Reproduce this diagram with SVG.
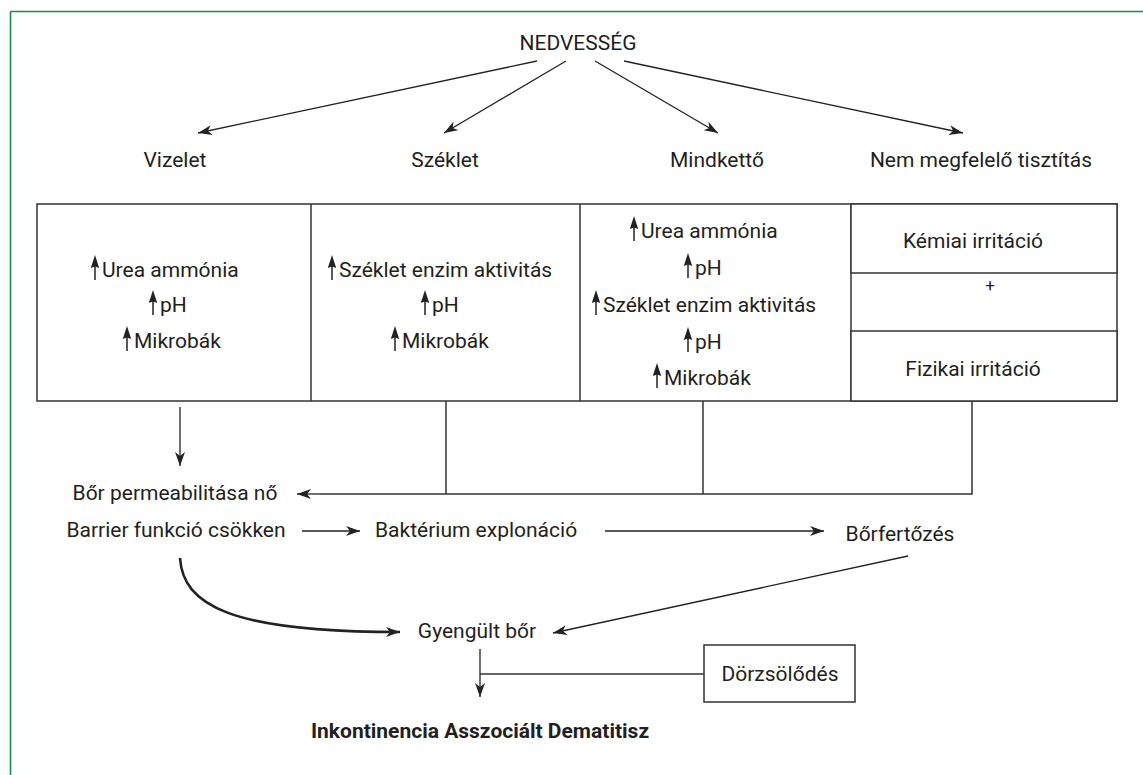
<svg xmlns="http://www.w3.org/2000/svg" xmlns:xlink="http://www.w3.org/1999/xlink" width="1143" height="775" viewBox="0 0 1143 775">
<style>
text{font-family:Roboto,"Liberation Sans",sans-serif;font-size:21px;fill:#231f20}
.c{text-anchor:middle}
.b{font-weight:bold}
.ln{stroke:#333;stroke-width:1.5;fill:none}
.ar{stroke:#222;stroke-width:1.3;fill:none;marker-end:url(#ah)}
.box{fill:#fff;stroke:#333;stroke-width:1.5}
</style>
<defs>
<marker id="ah" viewBox="0 0 14 10" refX="14" refY="5" markerWidth="14" markerHeight="10" markerUnits="userSpaceOnUse" orient="auto">
<path d="M0,0 L14,5 L0,10 L4,5 Z" fill="#222"/>
</marker>
<g id="up">
<line x1="0" y1="3" x2="0" y2="-12" stroke="#222" stroke-width="1.5"/>
<polygon points="0,-22 4.2,-9 0,-10.5 -4.2,-9" fill="#222"/>
</g>
</defs>
<rect width="1143" height="775" fill="#fff"/>
<g id="frame" stroke="#1a8a4a" stroke-width="1.6" fill="none">
<line x1="10.5" y1="11.5" x2="1143" y2="11.5"/>
<line x1="10.5" y1="11.5" x2="10.5" y2="775"/>
</g>

<g id="connectors">
<line class="ar" x1="537" y1="61" x2="198" y2="133"/>
<line class="ar" x1="566" y1="61" x2="444" y2="133"/>
<line class="ar" x1="595" y1="61" x2="718" y2="133"/>
<line class="ar" x1="624" y1="61" x2="963" y2="133"/>
<line class="ar" x1="180" y1="407" x2="180" y2="466"/>
<polyline class="ln" points="446,401 446,494"/>
<polyline class="ln" points="703,401 703,494"/>
<polyline class="ln" points="972,401 972,494 320,494"/>
<line class="ar" x1="320" y1="494" x2="297" y2="494"/>
<line class="ar" x1="302" y1="531" x2="360" y2="531"/>
<line class="ar" x1="605" y1="531" x2="824" y2="531"/>
<line class="ar" x1="908" y1="556" x2="553" y2="633"/>
<path d="M180,558 C183,605 230,632 400,632" stroke="#222" stroke-width="2.6" fill="none" marker-end="url(#ah)"/>
<line class="ar" x1="480" y1="649" x2="480" y2="697"/>
<line class="ln" x1="480" y1="674" x2="704" y2="674"/>
</g>

<g id="nedvesseg"><text class="c" x="578" y="50">NEDVESSÉG</text></g>
<g id="vizelet"><text class="c" x="175" y="167">Vizelet</text></g>
<g id="szeklet"><text class="c" x="445" y="167">Széklet</text></g>
<g id="mindketto"><text class="c" x="717" y="167">Mindkettő</text></g>
<g id="nem-megfelelo"><text class="c" x="981" y="167">Nem megfelelő tisztítás</text></g>

<g id="table">
<rect class="box" x="37" y="204" width="1080" height="197"/>
<line class="ln" x1="311" y1="204" x2="311" y2="401"/>
<line class="ln" x1="580" y1="204" x2="580" y2="401"/>
<line class="ln" x1="851" y1="204" x2="851" y2="401"/>
</g>

<g id="col-vizelet">
<use xlink:href="#up" x="95" y="277"/><text x="102" y="277">Urea ammónia</text>
<use xlink:href="#up" x="153" y="312"/><text x="160" y="312">pH</text>
<use xlink:href="#up" x="127" y="348"/><text x="134" y="348">Mikrobák</text>
</g>
<g id="col-szeklet">
<use xlink:href="#up" x="332" y="277"/><text x="339" y="277">Széklet enzim aktivitás</text>
<use xlink:href="#up" x="425" y="312"/><text x="432" y="312">pH</text>
<use xlink:href="#up" x="395" y="348"/><text x="402" y="348">Mikrobák</text>
</g>
<g id="col-mindketto">
<use xlink:href="#up" x="634" y="238"/><text x="641" y="238">Urea ammónia</text>
<use xlink:href="#up" x="688" y="275"/><text x="695" y="275">pH</text>
<use xlink:href="#up" x="596" y="312"/><text x="603" y="312">Széklet enzim aktivitás</text>
<use xlink:href="#up" x="688" y="349"/><text x="695" y="349">pH</text>
<use xlink:href="#up" x="657" y="385"/><text x="664" y="385">Mikrobák</text>
</g>
<g id="kemiai">
<rect class="box" x="851" y="204" width="266" height="69"/>
<text class="c" x="973" y="248">Kémiai irritáció</text>
</g>
<g id="plus"><text class="c" x="990" y="291" style="font-size:17px">+</text></g>
<g id="fizikai">
<rect class="box" x="851" y="331" width="266" height="70"/>
<text class="c" x="973" y="376">Fizikai irritáció</text>
</g>

<g id="bor-permeabilitasa"><text class="c" x="175" y="500">Bőr permeabilitása nő</text></g>
<g id="barrier"><text class="c" x="176" y="537">Barrier funkció csökken</text></g>
<g id="bakterium"><text x="375" y="537">Baktérium explonáció</text></g>
<g id="borfertozes"><text class="c" x="900" y="541">Bőrfertőzés</text></g>
<g id="gyengult"><text class="c" x="477" y="638">Gyengült bőr</text></g>
<g id="dorzsolodes">
<rect class="box" x="704" y="645" width="151" height="57"/>
<text class="c" x="780" y="681">Dörzsölődés</text>
</g>
<g id="iad"><text class="c b" x="480" y="738">Inkontinencia Asszociált Dematitisz</text></g>
</svg>
